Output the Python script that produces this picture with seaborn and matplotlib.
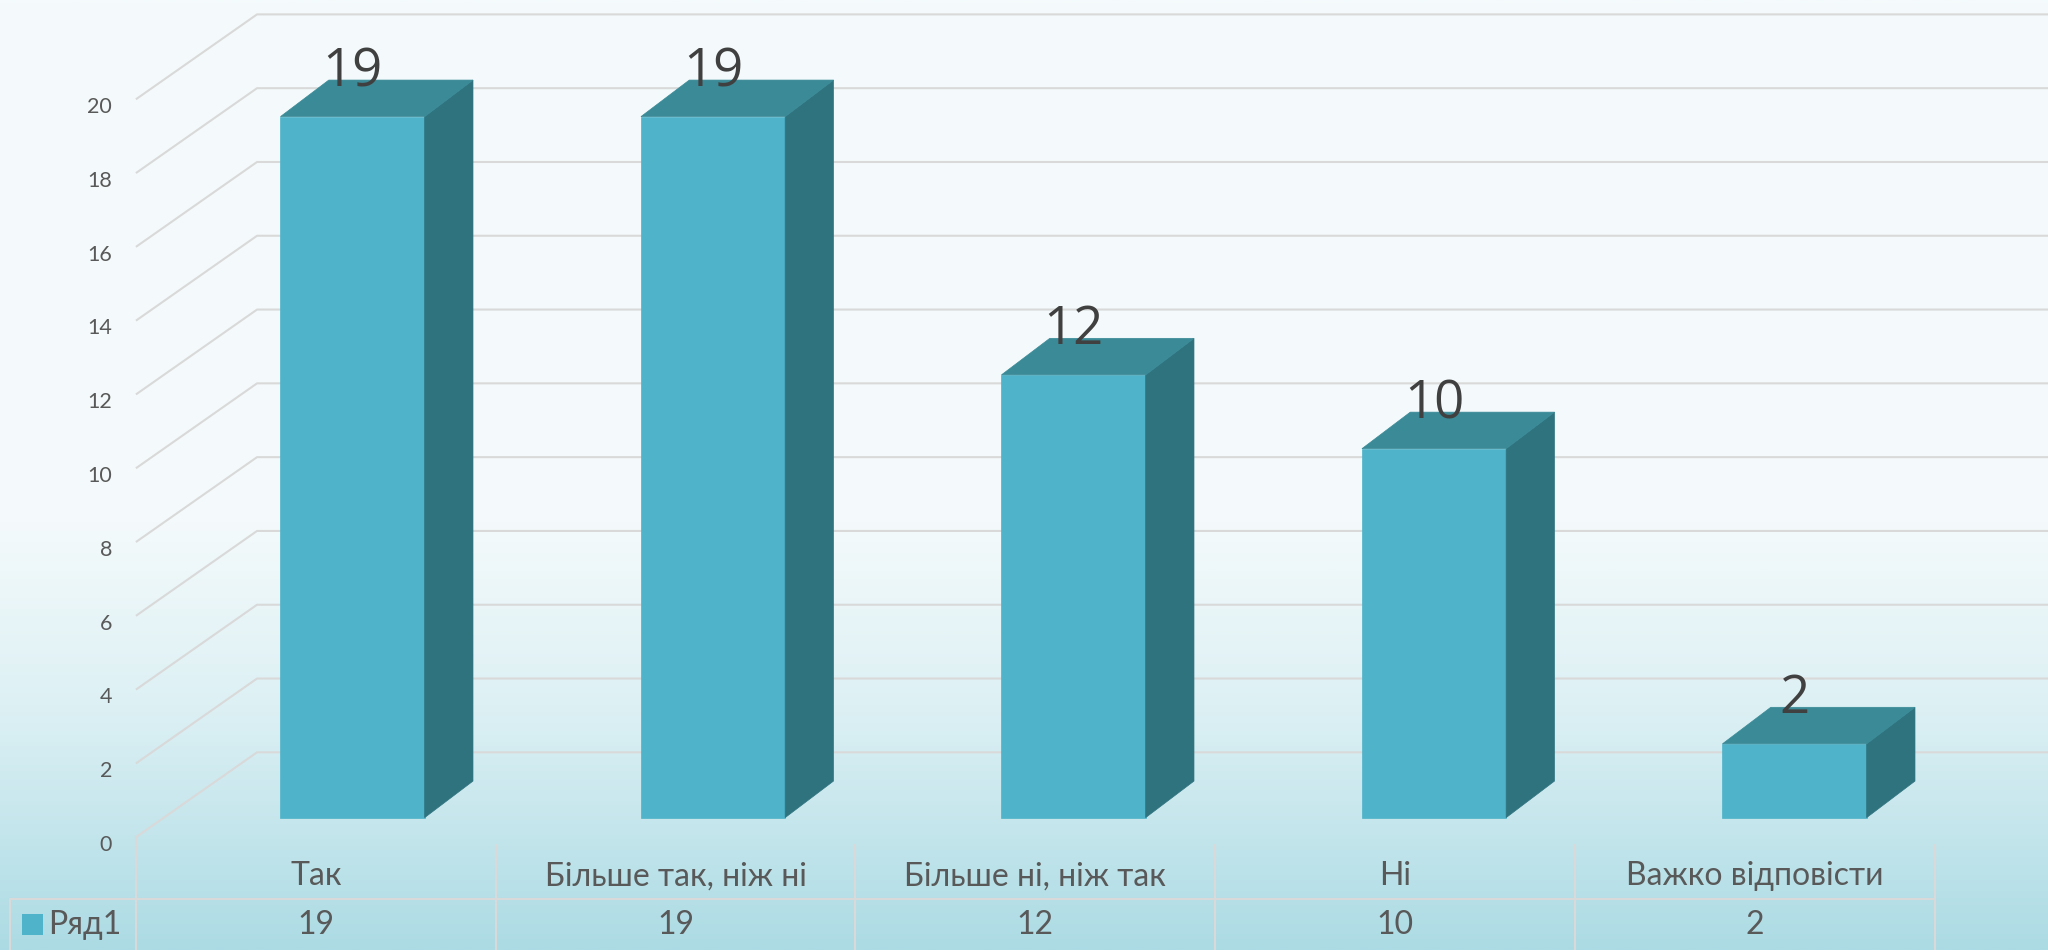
import numpy as np
import pandas as pd
import matplotlib
matplotlib.use("Agg")
import matplotlib.pyplot as plt
from matplotlib.colors import LinearSegmentedColormap
from matplotlib.patches import Polygon, Rectangle
import seaborn as sns

categories = ["Так", "Більше так, ніж ні", "Більше ні, ніж так", "Ні", "Важко відповісти"]
values = [19, 19, 12, 10, 2]
series_name = "Ряд1"
y_ticks = [0, 2, 4, 6, 8, 10, 12, 14, 16, 18, 20]

FRONT = "#4fb3c9"
SIDE = "#2f737f"
TOP = "#3a8a97"
GRID = "#d9d9d9"
TEXT = "#595959"

sns.set_theme(style="white")
plt.rcParams["font.family"] = ["Lato", "DejaVu Sans"]

df = pd.DataFrame({"category": categories, "value": values})

fig = plt.figure(figsize=(20.48, 9.5), dpi=100)
ax = fig.add_axes([0, 0, 1, 1])

# bar front plane is the data plane; 3D offsets are in data units
x_lo, x_hi = -0.978, 4.703
y_lo, y_hi = -3.588, 22.16

# background gradient (flat on top, teal towards the bottom)
grad = np.linspace(0, 1, 512).reshape(-1, 1)
cmap = LinearSegmentedColormap.from_list(
    "bg", [(0, "#f5fbfc"), (0.55, "#f4fafb"), (0.75, "#dcf0f4"), (1.0, "#acdbe4")]
)
ax.imshow(grad, extent=[x_lo, x_hi, y_lo, y_hi], origin="upper", aspect="auto",
          cmap=cmap, zorder=0)

# walls: side wall diagonals and back wall lines
fx, fy = -0.601, -0.531
bx, by = -0.265, 1.77
for v in y_ticks:
    ax.plot([fx, bx, x_hi], [v + fy, v + by, v + by], color=GRID, lw=1.5,
            zorder=1, solid_capstyle="butt")
    ax.text(-0.667, v + fy - 0.21, str(v), ha="right", va="center",
            fontsize=15.5, color=TEXT)

sns.barplot(data=df, x="category", y="value", color=FRONT, saturation=1,
            width=0.4, ax=ax, zorder=3, edgecolor=FRONT, linewidth=0.5)

dx, dy = 0.134, 0.99
for p, v in zip(ax.patches, values):
    x0, w, h = p.get_x(), p.get_width(), p.get_height()
    ax.add_patch(Polygon([(x0 + w, 0), (x0 + w + dx, dy), (x0 + w + dx, h + dy), (x0 + w, h)],
                         closed=True, facecolor=SIDE, edgecolor=SIDE, lw=0.5, zorder=3))
    ax.add_patch(Polygon([(x0, h), (x0 + dx, h + dy), (x0 + w + dx, h + dy), (x0 + w, h)],
                         closed=True, facecolor=TOP, edgecolor=TOP, lw=0.5, zorder=3))
    ax.text(x0 + w / 2, h + 1.2, str(v), ha="center", va="center", fontsize=38,
            color="#404040", family=["Open Sans", "DejaVu Sans"], zorder=5)

# data table
bounds = [-0.601 + 0.998 * k for k in range(len(categories) + 1)]
row_line = -2.195
ax.plot([-0.949, bounds[-1]], [row_line, row_line], color=GRID, lw=1.5, zorder=1)
ax.plot([-0.949, -0.949], [row_line, y_lo], color=GRID, lw=1.5, zorder=1)
for b in bounds:
    top = fy if b == bounds[0] else -0.743
    ax.plot([b, b], [top, y_lo], color=GRID, lw=1.5, zorder=1)
for i, (c, v) in enumerate(zip(categories, values)):
    cx = (bounds[i] + bounds[i + 1]) / 2
    ax.text(cx, -1.593, c, ha="center", va="center", fontsize=23, color=TEXT)
    ax.text(cx, -2.90, str(v), ha="center", va="center", fontsize=23, color=TEXT)

ax.add_patch(Rectangle((-0.917, -3.19), 0.058, 0.57, facecolor=FRONT, edgecolor="none", zorder=2))
ax.text(-0.844, -2.90, series_name, ha="left", va="center", fontsize=23, color=TEXT)

ax.set_xlim(x_lo, x_hi)
ax.set_ylim(y_lo, y_hi)
ax.set_axis_off()

fig.savefig("out.png", dpi=100)
